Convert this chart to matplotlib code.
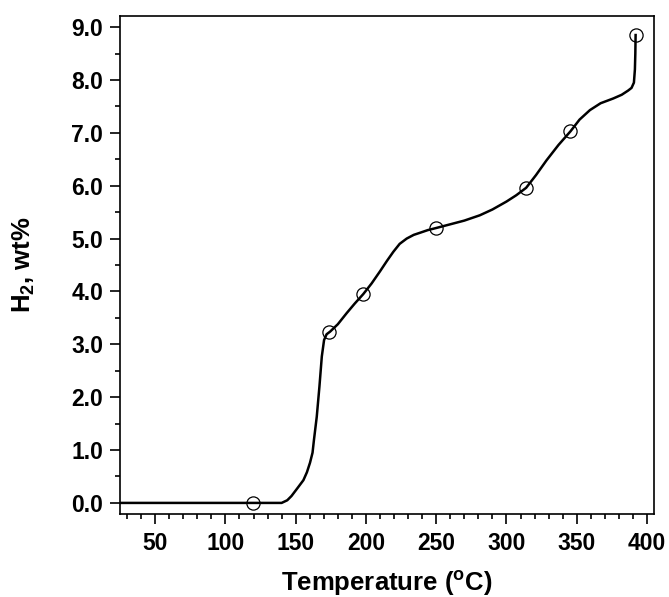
import matplotlib.pyplot as plt
from matplotlib.ticker import MultipleLocator, FormatStrFormatter

plt.rcParams['font.family'] = ['Liberation Sans', 'DejaVu Sans']
plt.rcParams['font.weight'] = 'bold'
plt.rcParams['mathtext.fontset'] = 'custom'
plt.rcParams['mathtext.rm'] = 'Liberation Sans'
plt.rcParams['mathtext.it'] = 'Liberation Sans:bold'
plt.rcParams['mathtext.bf'] = 'Liberation Sans:bold'

# courbe (Temperature en degC, H2 en wt%)
temp = [25, 140, 144, 147, 151, 155.5, 158, 160.2, 162, 163, 165, 166.9, 168.6,
        170.2, 172, 174.5, 180, 186.3, 192, 198.1, 204, 210, 215, 219.5, 224,
        229, 234, 238.5, 244, 250, 260, 270, 281, 290, 300, 307, 314, 321,
        328.5, 337, 345.6, 352, 359.4, 367, 376, 382, 386.6, 389, 390.7, 391.4,
        391.7, 391.9]
h2 = [0, 0, 0.05, 0.13, 0.27, 0.43, 0.58, 0.76, 0.95, 1.19, 1.63, 2.2, 2.77,
      3.08, 3.19, 3.24, 3.38, 3.59, 3.77, 3.95, 4.15, 4.38, 4.58, 4.75, 4.9,
      5.0, 5.07, 5.11, 5.16, 5.2, 5.27, 5.34, 5.44, 5.55, 5.70, 5.82, 5.96,
      6.2, 6.48, 6.77, 7.03, 7.25, 7.43, 7.56, 7.65, 7.72, 7.8, 7.85, 7.95,
      8.2, 8.5, 8.85]

# points mesures (cercles)
temp_pts = [119.5, 174, 198, 250, 314, 345.5, 392]
h2_pts = [0.0, 3.24, 3.95, 5.2, 5.96, 7.03, 8.85]

fig = plt.figure(figsize=(6.69, 5.97), dpi=100)
ax = fig.add_axes([0.1794, 0.139, 0.7982, 0.8342])

ax.plot(temp, h2, color='black', linewidth=1.8)
ax.plot(temp_pts, h2_pts, linestyle='none', marker='o', markersize=9.5,
        markerfacecolor='none', markeredgecolor='black', markeredgewidth=0.9)

ax.set_xlim(25, 405)
ax.set_ylim(-0.21, 9.21)
ax.xaxis.set_major_locator(MultipleLocator(50))
ax.xaxis.set_minor_locator(MultipleLocator(10))
ax.yaxis.set_major_locator(MultipleLocator(1))
ax.yaxis.set_minor_locator(MultipleLocator(0.5))
ax.yaxis.set_major_formatter(FormatStrFormatter('%.1f'))

ax.tick_params(which='major', direction='out', length=7, width=1.2,
               labelsize=16.5, top=False, right=False)
ax.tick_params(which='minor', direction='out', length=3.5, width=1.2,
               top=False, right=False)
ax.tick_params(axis='x', which='major', pad=6)
ax.tick_params(axis='y', which='major', pad=5)
for s in ax.spines.values():
    s.set_linewidth(1.2)

ax.set_xlabel(r'Temperature ($^{\mathrm{o}}$C)', fontsize=18.5, fontweight='bold')
ax.set_ylabel(r'H$_\mathbf{2}$, wt%', fontsize=18.5, fontweight='bold')
ax.xaxis.set_label_coords(0.5, -0.110)
ax.yaxis.set_label_coords(-0.155, 0.5)

fig.savefig('out.png', dpi=100)
